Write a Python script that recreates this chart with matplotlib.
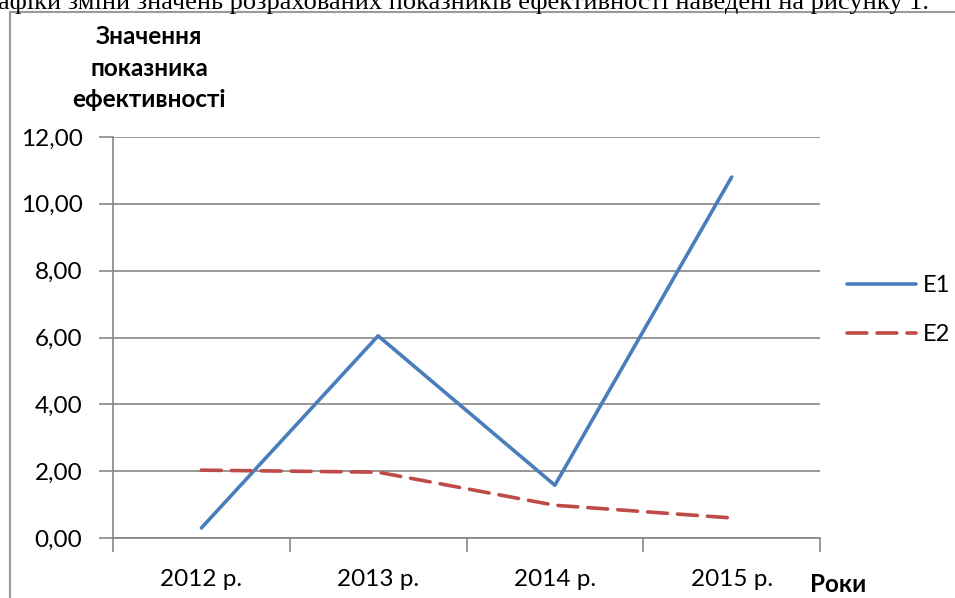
import matplotlib.pyplot as plt
from matplotlib.lines import Line2D

# ─── Data ─────────────────────────────────────────────────────────────────────
years = ["2012 р.", "2013 р.", "2014 р.", "2015 р."]
e1 = [0.30, 6.05, 1.58, 10.80]
e2 = [2.03, 1.97, 0.98, 0.60]
y_ticks = [0, 2, 4, 6, 8, 10, 12]

W, H = 955, 598
BLUE = "#4A7EBB"
RED = "#BE4B48"
GRID = "#868686"
FONT = ["Lato", "DejaVu Sans"]

fig = plt.figure(figsize=(W / 100, H / 100), dpi=100)
fig.patch.set_facecolor("white")

# frame of the embedded chart
fig.add_artist(Line2D([10 / W, 10 / W], [0, 1 - 12 / H], color="#9a9a9a", lw=1.5))
fig.add_artist(Line2D([10 / W, 1], [1 - 12 / H, 1 - 12 / H], color="#9a9a9a", lw=1.5))

# line of document text above the chart (cut by the top edge, as in the scan)
fig.text(-2 / W, 1 - 9 / H, "афіки зміни значень розрахованих показників ефективності наведені на рисунку 1.",
         fontsize=19, family="Liberation Serif", va="baseline", ha="left")

ax = fig.add_axes([113 / W, 1 - 538 / H, (820 - 113) / W, (538 - 137) / H])
x = list(range(len(years)))

ax.plot(x, e1, color=BLUE, lw=2.6, solid_capstyle="round", label="E1", zorder=3)
ax.plot(x, e2, color=RED, lw=2.6, dashes=(5.5, 2.8), dash_capstyle="round",
        label="E2", zorder=3)

ax.set_xlim(-0.5, 3.5)
ax.set_ylim(0, 12)
ax.set_yticks(y_ticks)
ax.set_yticklabels([f"{v:.2f}".replace(".", ",") for v in y_ticks],
                   fontsize=17.5, family=FONT)
ax.yaxis.grid(True, color=GRID, lw=1.2)
ax.set_axisbelow(True)

ax.set_xticks([-0.5, 0.5, 1.5, 2.5, 3.5])
ax.set_xticklabels([])
ax.set_xticks(x, minor=True)
ax.set_xticklabels(years, minor=True, fontsize=17.5, family=FONT)
ax.tick_params(axis="x", which="major", length=10, color=GRID, width=1.2, direction="out")
ax.tick_params(axis="x", which="minor", length=0, pad=22)
ax.tick_params(axis="y", length=10, color=GRID, width=1.2, pad=12)

for s in ["top", "right"]:
    ax.spines[s].set_visible(False)
for s in ["left", "bottom"]:
    ax.spines[s].set_color(GRID)
    ax.spines[s].set_linewidth(1.2)

fig.text(149 / W, 1 - 68 / H, "Значення\nпоказника\nефективності", ha="center", va="center",
         fontsize=17.5, fontweight="bold", family=FONT, linespacing=1.45)
fig.text(838 / W, 1 - 585 / H, "Роки", ha="center", va="center",
         fontsize=17.5, fontweight="bold", family=FONT)

ax.legend(loc="center left", bbox_to_anchor=(826 / W, 1 - 310 / H),
          bbox_transform=fig.transFigure, frameon=False, handlelength=2.9,
          handletextpad=0.3, labelspacing=1.2, prop={"family": FONT, "size": 17})

fig.savefig("out.png", dpi=100)
